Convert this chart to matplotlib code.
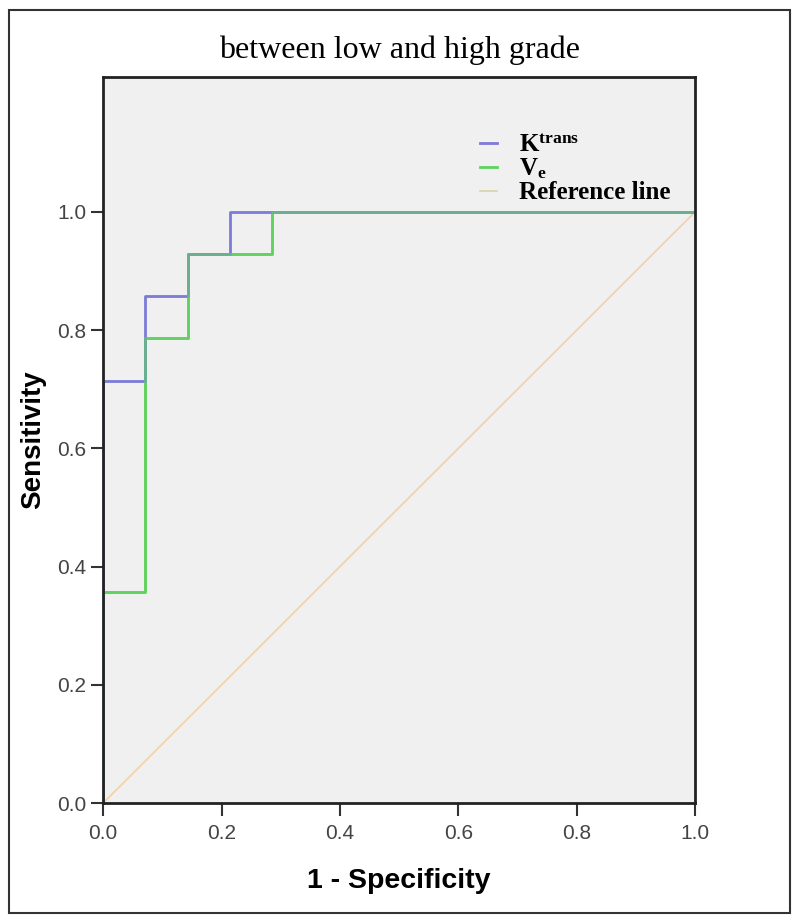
import numpy as np
import matplotlib.pyplot as plt
from matplotlib.patches import Rectangle

# -- ROC data (1 - specificity, sensitivity) --
ktrans_fpr = [0.0, 0.0, 0.0714, 0.0714, 0.1429, 0.1429, 0.2143, 0.2143, 1.0]
ktrans_tpr = [0.0, 0.7143, 0.7143, 0.8571, 0.8571, 0.9286, 0.9286, 1.0, 1.0]
ve_fpr = [0.0, 0.0, 0.0714, 0.0714, 0.1429, 0.1429, 0.2857, 0.2857, 1.0]
ve_tpr = [0.0, 0.3571, 0.3571, 0.7857, 0.7857, 0.9286, 0.9286, 1.0, 1.0]
ref_x = [0.0, 1.0]
ref_y = [0.0, 1.0]
ticks = [0.0, 0.2, 0.4, 0.6, 0.8, 1.0]

plt.rcParams['mathtext.fontset'] = 'custom'
plt.rcParams['mathtext.rm'] = 'Liberation Serif:bold'
plt.rcParams['mathtext.it'] = 'Liberation Serif:bold'

fig = plt.figure(figsize=(8, 9.23), dpi=100)
ax = fig.add_axes([0.129, 0.130, 0.740, 0.7866])
ax.set_facecolor('#f0f0f0')

ax.plot(ref_x, ref_y, color='#f5cfa9', lw=1.2, label='Reference line')
ax.plot(ve_fpr, ve_tpr, color='#5fd35f', lw=2, label='$\\mathregular{V_e}$')
ax.plot(ktrans_fpr, ktrans_tpr, color='#7b7bd8', lw=2, label='$\\mathregular{K^{trans}}$')
# green drawn on top where they overlap
ax.plot(ve_fpr, ve_tpr, color='#5fd35f', lw=2, alpha=0.6)

ax.set_xlim(0, 1)
ax.set_ylim(0, 1.228)
ax.set_xticks(ticks)
ax.set_yticks(ticks)
ax.set_xticklabels(['%.1f' % t for t in ticks], fontsize=15, color='#444444', family='Liberation Sans')
ax.set_yticklabels(['%.1f' % t for t in ticks], fontsize=15, color='#444444', family='Liberation Sans')
ax.tick_params(direction='out', length=9, width=1.5, color='#333333', pad=3)
ax.tick_params(axis='x', pad=6)
for s in ax.spines.values():
    s.set_linewidth(2)
    s.set_color('#222222')

ax.set_xlabel('1 - Specificity', fontsize=20.5, fontweight='bold', family='Liberation Sans', labelpad=18)
ax.set_ylabel('Sensitivity', fontsize=20, fontweight='bold', family='Liberation Sans', labelpad=8)
fig.text(0.5, 0.946, 'between low and high grade', ha='center', va='center',
         fontsize=23, family='Liberation Serif')

h, l = ax.get_legend_handles_labels()
order = [2, 1, 0]
leg = ax.legend([h[i] for i in order], [l[i] for i in order], loc='upper left',
                bbox_to_anchor=(0.615, 0.939), frameon=False, handlelength=0.7,
                handletextpad=0.85, labelspacing=0.0, borderpad=0,
                prop={'family': 'Liberation Serif', 'weight': 'bold', 'size': 18})
leg.get_lines()[2].set_color('#d8d3a8')

fig.patches.append(Rectangle((0.011, 0.011), 0.976, 0.978, transform=fig.transFigure,
                             fill=False, edgecolor='#333333', lw=1.5))

fig.savefig('out.png', dpi=100)
